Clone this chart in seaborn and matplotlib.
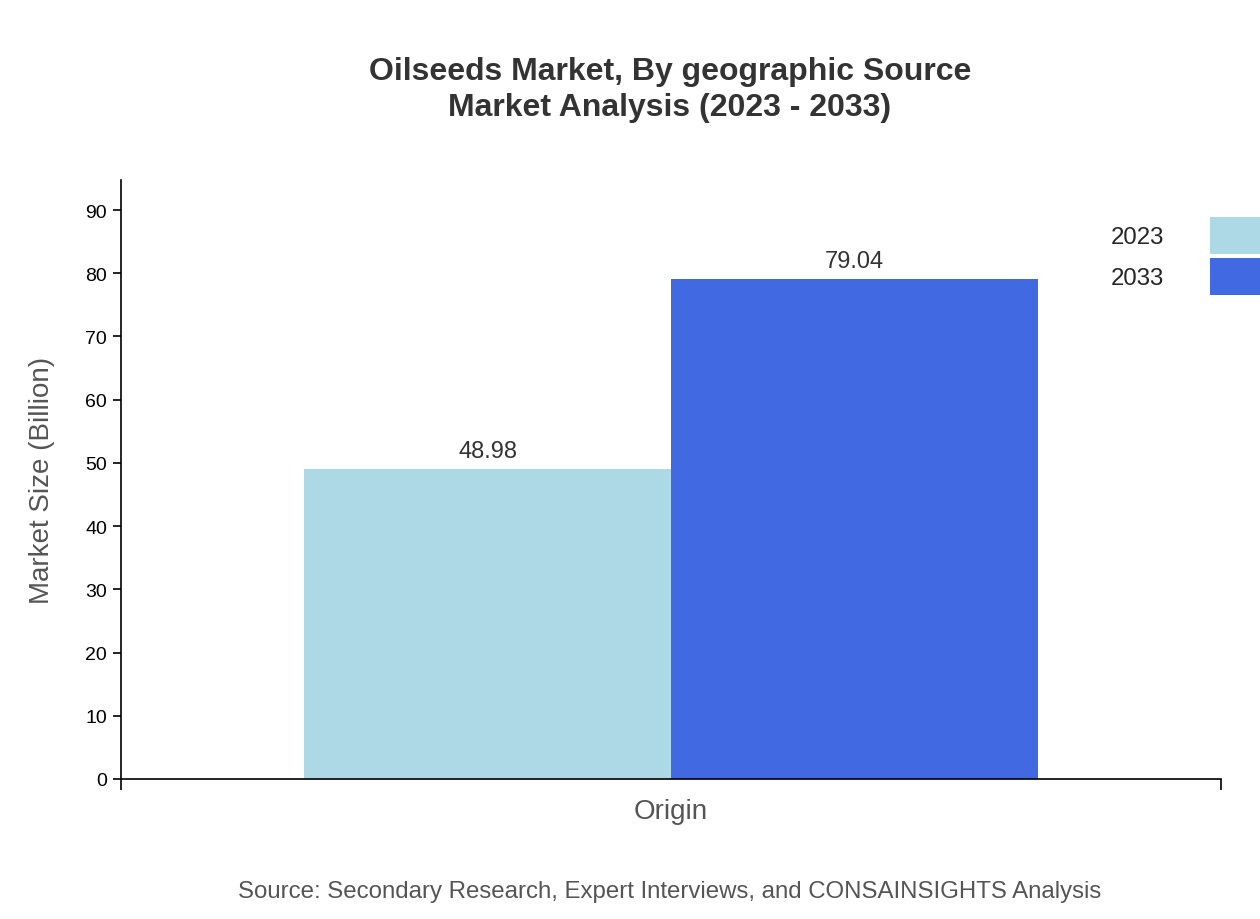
import matplotlib
matplotlib.use("Agg")
import matplotlib.pyplot as plt
import seaborn as sns
import pandas as pd
from matplotlib.patches import Patch

categories = ["Origin"]
years = ["2023", "2033"]
values_2023 = [48.98]
values_2033 = [79.04]
colors = ["#add8e6", "#4169e1"]

df = pd.DataFrame({
    "cat": categories * 2,
    "year": [years[0]] * len(categories) + [years[1]] * len(categories),
    "val": values_2023 + values_2033,
})

sns.set_theme(style="white")
plt.rcParams["font.family"] = ["Liberation Sans", "DejaVu Sans"]

fig = plt.figure(figsize=(12.6, 9.2), dpi=100)
ax = fig.add_axes([121/1260, 1-780/920, 1100/1260, (780-181)/920])
sns.barplot(data=df, x="cat", y="val", hue="year", palette=colors, width=0.667,
            saturation=1, ax=ax, legend=False, linewidth=0)
ax.set_xlim(-0.5, 0.5)
ax.set_ylim(0, 94.75)
ax.set_yticks(range(0, 91, 10))
ax.tick_params(axis="y", labelsize=14, length=6, width=1.2, color="black", labelcolor="black", left=True, pad=4)
ax.tick_params(axis="x", labelsize=20, length=0, labelcolor="#555555", pad=14)
ax.set_xticks([-0.5, 0.5], minor=True)
ax.tick_params(axis="x", which="minor", length=8, width=1.2, color="black", bottom=True)
for s in ["top", "right"]:
    ax.spines[s].set_visible(False)
for s in ["left", "bottom"]:
    ax.spines[s].set_color("black")
    ax.spines[s].set_linewidth(1.2)
ax.set_xlabel("")
ax.set_ylabel("Market Size (Billion)", fontsize=20, color="#555555", labelpad=22)

for c in ax.containers:
    ax.bar_label(c, fmt="%.2f", fontsize=17, color="#333333", padding=5)

fig.text(670/1260, 1-90/920, "Oilseeds Market, By geographic Source\nMarket Analysis (2023 - 2033)",
         ha="center", va="center", fontsize=23, fontweight="bold", color="#333333", linespacing=1.3)
fig.text(670/1260, 1-892/920, "Source: Secondary Research, Expert Interviews, and CONSAINSIGHTS Analysis",
         ha="center", va="center", fontsize=17.3, color="#555555")

handles = [Patch(color=colors[0], linewidth=0), Patch(color=colors[1], linewidth=0)]
fig.legend(handles, years, loc="upper right", bbox_to_anchor=(1.0 + 0.0, 1-218/920),
           markerfirst=False, frameon=False, fontsize=17.3, handlelength=2.1, handleheight=2.0,
           handletextpad=1.9, labelspacing=0.15, borderaxespad=0, borderpad=0)

fig.savefig("out.png", dpi=100)
